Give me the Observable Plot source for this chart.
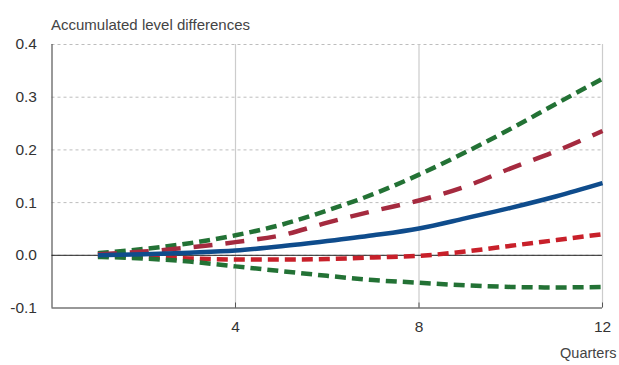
<!DOCTYPE html>
<html>
<head>
<meta charset="utf-8">
<script src="https://cdn.jsdelivr.net/npm/d3@7"></script>
<script src="https://cdn.jsdelivr.net/npm/@observablehq/plot@0.6"></script>
<style>
  html, body { margin: 0; padding: 0; background: #fff; }
  #chart svg { display: block; }
</style>
</head>
<body>
<div id="chart"></div>
<script>
const quarters = [1, 2, 3, 4, 5, 6, 7, 8, 9, 10, 11, 12];
const upperGreen = [0.004, 0.012, 0.023, 0.038, 0.058, 0.085, 0.116, 0.153, 0.195, 0.240, 0.288, 0.335];
const upperMaroon = [0.002, 0.007, 0.015, 0.025, 0.038, 0.062, 0.084, 0.104, 0.130, 0.165, 0.198, 0.236];
const median = [0.0, 0.002, 0.005, 0.009, 0.017, 0.027, 0.038, 0.051, 0.070, 0.090, 0.112, 0.137];
const lowerRed = [0.0, -0.003, -0.006, -0.008, -0.008, -0.007, -0.004, -0.001, 0.007, 0.018, 0.029, 0.040];
const lowerGreen = [-0.003, -0.006, -0.012, -0.021, -0.030, -0.039, -0.047, -0.052, -0.057, -0.060, -0.061, -0.060];
const yTicks = [-0.1, 0, 0.1, 0.2, 0.3, 0.4];
const xTicks = [4, 8, 12];
const title = "Accumulated level differences";
const xLabel = "Quarters";

const series = [
  {name: "upperGreen", values: upperGreen, color: "#237235", dash: "11,6", width: 4.5},
  {name: "upperMaroon", values: upperMaroon, color: "#a52a3f", dash: "19,13", width: 4.5},
  {name: "lowerRed", values: lowerRed, color: "#c8202a", dash: "11,6", width: 4.5},
  {name: "lowerGreen", values: lowerGreen, color: "#237235", dash: "11,6", width: 4.5},
  {name: "median", values: median, color: "#0f4c8c", dash: null, width: 4.5}
];
const rows = series.map(s => quarters.map((q, i) => ({q, v: s.values[i]})));

const font = "'Liberation Sans', Arial, sans-serif";

const chart = Plot.plot({
  width: 619,
  height: 365,
  marginLeft: 51.5,
  marginRight: 17,
  marginTop: 44,
  marginBottom: 57.5,
  style: {fontFamily: font, fontSize: "15.5px", color: "#333", background: "#fff"},
  x: {domain: [0, 12]},
  y: {domain: [-0.1, 0.4]},
  marks: [
    Plot.ruleY(yTicks.filter(d => d > -0.1), {stroke: "#bdbdbd", strokeDasharray: "3,3", strokeWidth: 1}),
    Plot.ruleX(xTicks, {stroke: "#cccccc", strokeWidth: 1.2}),
    Plot.axisY({ticks: yTicks, tickSize: 0, tickPadding: 15, tickFormat: d => d.toFixed(1), label: null, fontSize: 15.5, fill: "#333"}),
    Plot.axisX({ticks: xTicks, tickSize: -5, tickPadding: 18, tickFormat: d => String(d), label: null, fontSize: 15.5, fill: "#333", stroke: "#555"}),
    Plot.ruleX([0], {stroke: "#555", strokeWidth: 1.2}),
    Plot.ruleY([-0.1], {stroke: "#333", strokeWidth: 1.2}),
    Plot.ruleY([0], {stroke: "#222", strokeWidth: 1}),
    ...series.map((s, i) => Plot.line(rows[i], {
      x: "q", y: "v", stroke: s.color, strokeWidth: s.width,
      strokeDasharray: s.dash || undefined, curve: "monotone-x", strokeLinecap: "butt"
    })),
    Plot.text([title], {frameAnchor: "top-left", dx: -1, dy: -25, text: d => d, textAnchor: "start", fontSize: 15, fill: "#444"}),
    Plot.text([xLabel], {frameAnchor: "bottom-right", dx: 14, dy: 50, text: d => d, textAnchor: "end", fontSize: 14.5, fill: "#444"})
  ]
});
document.getElementById("chart").appendChild(chart);
</script>
</body>
</html>
